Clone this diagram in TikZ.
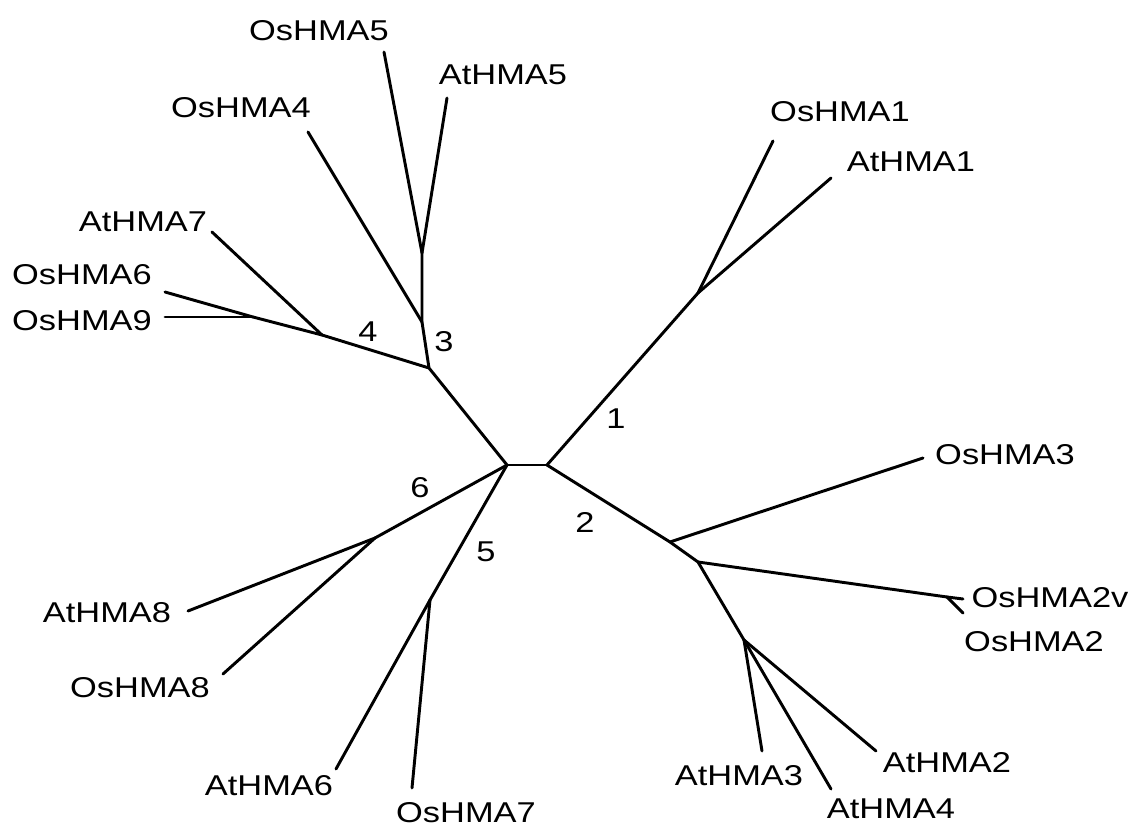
\documentclass[tikz,border=0pt]{standalone}
\usepackage{fontspec}
\setmainfont{Liberation Sans}[FakeStretch=1.2]
\begin{document}
\begin{tikzpicture}[x=0.75pt,y=-0.75pt,
  branch/.style={line width=2.2pt,line cap=round,line join=round},
  leaf/.style={inner sep=0pt,font=\fontsize{21.5}{25}\selectfont},
  edgelab/.style={inner sep=0pt,font=\fontsize{21.5}{25}\selectfont}]
\useasboundingbox (0,0) rectangle (1133,827);

% internal nodes of the tree
\coordinate (cL) at (507,465);
\coordinate (cR) at (547,465);
\coordinate (n1) at (698,293);
\coordinate (n2) at (670,542);
\coordinate (n2a) at (698,562);
\coordinate (n2b) at (947,597);
\coordinate (n2c) at (744,640);
\coordinate (n3) at (429,368);
\coordinate (n3a) at (422,322);
\coordinate (n3b) at (422,253);
\coordinate (n4) at (322,335);
\coordinate (n4a) at (253,317);
\coordinate (n6) at (375,538);
\coordinate (n5) at (430,600);

% leaf tips
\coordinate (tOs1) at (773,141);
\coordinate (tAt1) at (831,178);
\coordinate (tOs3) at (923,458);
\coordinate (tOs2v) at (963,599);
\coordinate (tOs2) at (963,613);
\coordinate (tAt3) at (762,751);
\coordinate (tAt4) at (831,789);
\coordinate (tAt2) at (876,751);
\coordinate (tOs4) at (308,132);
\coordinate (tOs5) at (384,52);
\coordinate (tAt5) at (447,98);
\coordinate (tAt7) at (212,232);
\coordinate (tOs6) at (165,292);
\coordinate (tOs9) at (165,317);
\coordinate (tAt8) at (188,611);
\coordinate (tOs8) at (223,674);
\coordinate (tAt6) at (336,769);
\coordinate (tOs7) at (412,788);

% branches
\draw[branch] (cL) -- (cR);
\draw[branch] (cR) -- (n1);
\draw[branch] (n1) -- (tOs1);
\draw[branch] (n1) -- (tAt1);
\draw[branch] (cR) -- (n2) -- (n2a) -- (n2c);
\draw[branch] (n2) -- (tOs3);
\draw[branch] (n2a) -- (n2b);
\draw[branch] (n2b) -- (tOs2v);
\draw[branch] (n2b) -- (tOs2);
\draw[branch] (n2c) -- (tAt3);
\draw[branch] (n2c) -- (tAt4);
\draw[branch] (n2c) -- (tAt2);
\draw[branch] (cL) -- (n3) -- (n3a) -- (n3b);
\draw[branch] (n3a) -- (tOs4);
\draw[branch] (n3b) -- (tOs5);
\draw[branch] (n3b) -- (tAt5);
\draw[branch] (n3) -- (n4) -- (n4a);
\draw[branch] (n4) -- (tAt7);
\draw[branch] (n4a) -- (tOs6);
\draw[branch] (n4a) -- (tOs9);
\draw[branch] (cL) -- (n6);
\draw[branch] (n6) -- (tAt8);
\draw[branch] (n6) -- (tOs8);
\draw[branch] (cL) -- (n5);
\draw[branch] (n5) -- (tAt6);
\draw[branch] (n5) -- (tOs7);

% leaf labels
\node[leaf] (lOs1) at (840,112) {OsHMA1};
\node[leaf] (lAt1) at (911,162) {AtHMA1};
\node[leaf] (lOs3) at (1005,455) {OsHMA3};
\node[leaf] (lOs2v) at (1050,598) {OsHMA2v};
\node[leaf] (lOs2) at (1034,642) {OsHMA2};
\node[leaf] (lAt3) at (739,776) {AtHMA3};
\node[leaf] (lAt4) at (891,809) {AtHMA4};
\node[leaf] (lAt2) at (947,763) {AtHMA2};
\node[leaf] (lOs4) at (241,108) {OsHMA4};
\node[leaf] (lOs5) at (319,31) {OsHMA5};
\node[leaf] (lAt5) at (503,75) {AtHMA5};
\node[leaf] (lAt7) at (143,222) {AtHMA7};
\node[leaf] (lOs6) at (82,275) {OsHMA6};
\node[leaf] (lOs9) at (82,321) {OsHMA9};
\node[leaf] (lAt8) at (107,613) {AtHMA8};
\node[leaf] (lOs8) at (140,688) {OsHMA8};
\node[leaf] (lAt6) at (269,786) {AtHMA6};
\node[leaf] (lOs7) at (466,813) {OsHMA7};

% clade numbers
\node[edgelab] (k1) at (616,419) {1};
\node[edgelab] (k2) at (585,522) {2};
\node[edgelab] (k3) at (444,342) {3};
\node[edgelab] (k4) at (368,332) {4};
\node[edgelab] (k5) at (486,552) {5};
\node[edgelab] (k6) at (420,488) {6};
\end{tikzpicture}
\end{document}
